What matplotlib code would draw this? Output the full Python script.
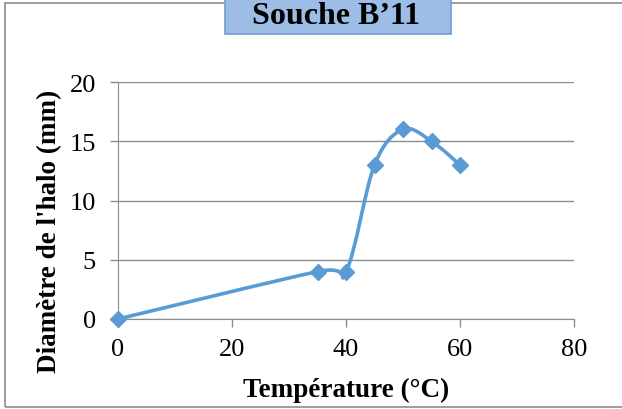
import numpy as np
import matplotlib
matplotlib.use("Agg")
import matplotlib.pyplot as plt
from matplotlib.path import Path
from matplotlib.patches import PathPatch, Rectangle

plt.rcParams['font.family'] = ['Liberation Serif', 'DejaVu Serif']

# données : température (°C) et diamètre du halo (mm)
temperatures = [0, 35, 40, 45, 50, 55, 60]
diametres = [0, 4, 4, 13, 16, 15, 13]
x_ticks = [0, 20, 40, 60, 80]
y_ticks = [0, 5, 10, 15, 20]

bleu = '#5b9bd5'
gris = '#8c8c8c'


def courbe_lissee(xs, ys):
    # lissage type Catmull-Rom avec des segments de Bézier cubiques
    pts = np.column_stack([xs, ys]).astype(float)
    n = len(pts)
    verts = [pts[0]]
    codes = [Path.MOVETO]
    for i in range(n - 1):
        p0 = pts[i - 1] if i > 0 else pts[i]
        p1 = pts[i]
        p2 = pts[i + 1]
        p3 = pts[i + 2] if i + 2 < n else pts[i + 1]
        c1 = p1 + (p2 - p0) / 6.0
        c2 = p2 - (p3 - p1) / 6.0
        verts += [c1, c2, p2]
        codes += [Path.CURVE4] * 3
    return Path(verts, codes)


fig = plt.figure(figsize=(6.22, 4.10), dpi=100)
ax = fig.add_axes([118 / 622, 90 / 410, 456 / 622, 237 / 410])

ax.set_xlim(0, 80)
ax.set_ylim(0, 20)
ax.set_xticks(x_ticks)
ax.set_yticks(y_ticks)
ax.tick_params(axis='both', labelsize=19, colors=gris, labelcolor='black',
               direction='out', length=6, width=1)
ax.tick_params(axis='x', pad=8)
ax.tick_params(axis='y', pad=10)

ax.grid(axis='y', color=gris, linewidth=1)
ax.set_axisbelow(True)
for cote in ['top', 'right']:
    ax.spines[cote].set_visible(False)
ax.spines['left'].set_color(gris)
ax.spines['bottom'].set_color(gris)

ax.add_patch(PathPatch(courbe_lissee(temperatures, diametres), facecolor='none',
                       edgecolor=bleu, linewidth=2.6, capstyle='round',
                       joinstyle='round', zorder=3, clip_on=False))
ax.plot(temperatures, diametres, linestyle='none', marker='D', markersize=8,
        color=bleu, zorder=4, clip_on=False)

# titres des axes
fig.text(346 / 622, 1 - 390 / 410, 'Température (°C)', fontsize=19.5,
         fontweight='bold', ha='center', va='center')
fig.text(50 / 622, 1 - 231 / 410, "Diamètre de l'halo (mm)", fontsize=19.5,
         fontweight='bold', ha='center', va='center', rotation=90)

# cadre du graphique
fig.patches.append(Rectangle((5 / 622, 2 / 410), 1.0, 404 / 410,
                             transform=fig.transFigure, fill=False,
                             edgecolor=gris, linewidth=1.2))

# encadré du titre
fig.patches.append(Rectangle((225 / 622, 375 / 410), 226 / 622, 40 / 410,
                             transform=fig.transFigure, facecolor='#9dbde6',
                             edgecolor='#6a9fd8', linewidth=1.2, zorder=5))
fig.text(336 / 622, 393 / 410, 'Souche B’11', fontsize=23, fontweight='bold',
         ha='center', va='center', zorder=6)

fig.savefig('out.png', dpi=100)
